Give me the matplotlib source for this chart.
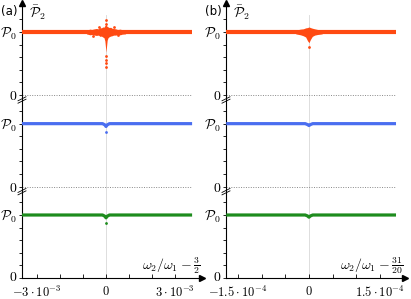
import numpy as np
import matplotlib
matplotlib.use("Agg")
import matplotlib.pyplot as plt
import matplotlib.transforms as mtransforms

plt.rcParams['mathtext.fontset'] = 'cm'
plt.rcParams['font.family'] = ['DejaVu Sans']

# ---------------- data ----------------
# vertical offsets of the three stacked bands (band value 0 -> offset, P0 -> offset+1)
band_offsets = [2.905, 1.45, 0.0]          # orange (top), blue (middle), green (bottom)
colors = ['#ff4a12', '#4a6ef0', '#1e8c1e']

# panel (a): x in units of 1e-3
a_scale = 1e-3
a_line_x = [-3.65, -1.5, -0.15, -0.05, 0.0, 0.05, 0.15, 1.5, 3.74]
a_orange_y = [1.0, 1.0, 1.0, 1.0, 1.0, 1.0, 1.0, 1.0, 1.0]
a_blue_y = [1.0, 1.0, 1.0, 0.98, 0.955, 0.98, 1.0, 1.0, 1.0]
a_green_y = [1.0, 1.0, 1.0, 0.98, 0.955, 0.98, 1.0, 1.0, 1.0]
a_burst_x = [-0.85, -0.7, -0.62, -0.5, -0.42, -0.33, -0.26, -0.2, -0.14, -0.09, -0.05,
             -0.02, 0.0, 0.02, 0.05, 0.09, 0.14, 0.2, 0.26, 0.33, 0.42, 0.5, 0.62, 0.7, 0.85]
a_burst_hi = [1.03, 1.045, 1.04, 1.05, 1.055, 1.05, 1.07, 1.065, 1.08, 1.075, 1.10,
              1.11, 1.12, 1.10, 1.09, 1.08, 1.07, 1.075, 1.06, 1.055, 1.05, 1.04, 1.045, 1.035, 1.03]
a_burst_lo = [0.97, 0.955, 0.96, 0.95, 0.945, 0.95, 0.93, 0.935, 0.92, 0.91, 0.86,
              0.75, 0.68, 0.76, 0.87, 0.91, 0.925, 0.935, 0.94, 0.95, 0.95, 0.96, 0.955, 0.965, 0.97]
a_orange_dots_x = [0.0, 0.0, -0.02, 0.0, 0.0, 0.0, -0.3, 0.35, -0.55, 0.5]
a_orange_dots_y = [1.19, 1.13, 0.62, 0.56, 0.51, 0.44, 1.08, 1.075, 0.94, 0.945]
a_blue_dots_x = [0.0]
a_blue_dots_y = [0.86]
a_green_dots_x = [0.0]
a_green_dots_y = [0.87]

# panel (b): x in units of 1e-4
b_scale = 1e-4
b_line_x = [-1.75, -0.8, -0.08, -0.03, 0.0, 0.03, 0.08, 0.8, 1.84]
b_orange_y = [1.0, 1.0, 1.0, 1.0, 1.0, 1.0, 1.0, 1.0, 1.0]
b_blue_y = [1.0, 1.0, 1.0, 0.985, 0.97, 0.985, 1.0, 1.0, 1.0]
b_green_y = [1.0, 1.0, 1.0, 0.985, 0.965, 0.985, 1.0, 1.0, 1.0]
b_burst_x = [-0.28, -0.18, -0.12, -0.07, -0.03, 0.0, 0.03, 0.07, 0.12, 0.18, 0.28]
b_burst_hi = [1.03, 1.045, 1.05, 1.065, 1.07, 1.08, 1.07, 1.06, 1.05, 1.04, 1.03]
b_burst_lo = [0.97, 0.955, 0.94, 0.92, 0.86, 0.83, 0.88, 0.93, 0.95, 0.96, 0.97]
b_orange_dots_x = [0.0]
b_orange_dots_y = [0.76]
b_blue_dots_x = []
b_blue_dots_y = []
b_green_dots_x = []
b_green_dots_y = []

a_xticks = [-3, 0, 3]
a_xticklabels = [r'$-3\cdot10^{-3}$', r'$0$', r'$3\cdot10^{-3}$']
a_xminor = [-2, -1, 1, 2]
b_xticks = [-1.5, 0, 1.5]
b_xticklabels = [r'$-1.5\cdot10^{-4}$', r'$0$', r'$1.5\cdot10^{-4}$']
b_xminor = [-1.0, -0.5, 0.5, 1.0]

panels = [
    dict(label='(a)', scale=a_scale, xlim=(-3.65, 4.17), line_x=a_line_x,
         ys=[a_orange_y, a_blue_y, a_green_y], burst=(a_burst_x, a_burst_hi, a_burst_lo),
         dots=[(a_orange_dots_x, a_orange_dots_y), (a_blue_dots_x, a_blue_dots_y),
               (a_green_dots_x, a_green_dots_y)],
         xticks=a_xticks, xticklabels=a_xticklabels, xminor=a_xminor,
         xlabel=r'$\omega_2/\omega_1-\frac{3}{2}$', left=22, right=202),
    dict(label='(b)', scale=b_scale, xlim=(-1.754, 2.03), line_x=b_line_x,
         ys=[b_orange_y, b_blue_y, b_green_y], burst=(b_burst_x, b_burst_hi, b_burst_lo),
         dots=[(b_orange_dots_x, b_orange_dots_y), (b_blue_dots_x, b_blue_dots_y),
               (b_green_dots_x, b_green_dots_y)],
         xticks=b_xticks, xticklabels=b_xticklabels, xminor=b_xminor,
         xlabel=r'$\omega_2/\omega_1-\frac{31}{20}$', left=226, right=405),
]

W, H = 411, 299
fig = plt.figure(figsize=(W / 100, H / 100), dpi=100)
YTOP = 4.365
lws = [3.0, 2.3, 2.3]

for p in panels:
    ax = fig.add_axes([p['left'] / W, 21 / H, (p['right'] - p['left']) / W, 275 / H])
    s = p['scale']
    ax.set_xlim(p['xlim'][0] * s, p['xlim'][1] * s)
    ax.set_ylim(0, YTOP)
    for sp in ['top', 'right']:
        ax.spines[sp].set_visible(False)
    for sp in ['left', 'bottom']:
        ax.spines[sp].set_linewidth(0.8)
    xl = np.array(p['line_x']) * s
    # vertical zero line
    ax.plot([0, 0], [0, 4.17], color='#d8d8d8', lw=0.6, zorder=1)
    # dotted zero lines of upper bands
    for off in band_offsets[:2]:
        ax.plot([xl[0], xl[-1]], [off, off], color='#888888', lw=0.7, ls=(0, (1, 1.5)), zorder=1)
    for i, off in enumerate(band_offsets):
        ax.plot(xl, np.array(p['ys'][i]) + off, color=colors[i], lw=lws[i],
                solid_capstyle='butt', zorder=3)
        dx, dy = p['dots'][i]
        if len(dx):
            ax.scatter(np.array(dx) * s, np.array(dy) + off, s=4, color=colors[i],
                       linewidths=0, zorder=4)
    bx, bh, bl = p['burst']
    ax.fill_between(np.array(bx) * s, np.array(bl) + band_offsets[0],
                    np.array(bh) + band_offsets[0], color=colors[0], lw=0, zorder=3)
    # y ticks
    yt = []
    ytl = []
    minor = []
    for off in band_offsets:
        yt += [off, off + 1]
        ytl += [r'$0$', r'$\mathcal{P}_0$']
        minor += [off + k * 0.2 for k in (1, 2, 3, 4, 6)]
    ax.set_yticks(yt)
    ax.set_yticklabels(ytl, fontsize=10)
    ax.set_yticks(minor, minor=True)
    ax.tick_params(axis='y', which='both', direction='out', length=2.5, width=0.6, pad=1)
    # x ticks
    ax.set_xticks(np.array(p['xticks']) * s)
    ax.set_xticklabels(p['xticklabels'], fontsize=9)
    ax.set_xticks(np.array(p['xminor']) * s, minor=True)
    ax.tick_params(axis='x', which='both', direction='in', length=3, width=0.6, pad=5)
    # lift the lowest "0" label slightly so it clears the x tick labels
    for lab in ax.get_yticklabels():
        pos = lab.get_position()
    low = ax.get_yticklabels()[4]
    low.set_transform(low.get_transform() +
                      mtransforms.ScaledTranslation(0, 2.5 / 100, fig.dpi_scale_trans))
    # arrows
    ax.plot([0], [1], marker='^', ms=4, color='black', transform=ax.transAxes, clip_on=False)
    ax.plot([1], [0], marker='>', ms=4, color='black', transform=ax.transAxes, clip_on=False)
    # break marks
    x0 = p['xlim'][0] * s
    pxx = (p['xlim'][1] - p['xlim'][0]) * s / (p['right'] - p['left'])
    pxy = YTOP / 275.0
    for off in band_offsets[:2]:
        yc = off - 5 * pxy
        for d in (-1.2, 1.2):
            ax.plot([x0 - 4 * pxx, x0 + 4 * pxx],
                    [yc + d * pxy - 2 * pxy, yc + d * pxy + 2 * pxy],
                    color='black', lw=0.6, clip_on=False, zorder=5)
    ax.text(0.99, 0.008, p['xlabel'], transform=ax.transAxes, ha='right', va='bottom',
            fontsize=10)
    ax.text(0.04, 1.0, r'$\bar{\mathcal{P}}_2$', transform=ax.transAxes, ha='left',
            va='top', fontsize=10)
    fig.text((p['left'] - 22) / W + 0.002, 1 - 11 / H, p['label'], ha='left', va='center',
             fontsize=8.5)

fig.savefig('out.png', dpi=100)
